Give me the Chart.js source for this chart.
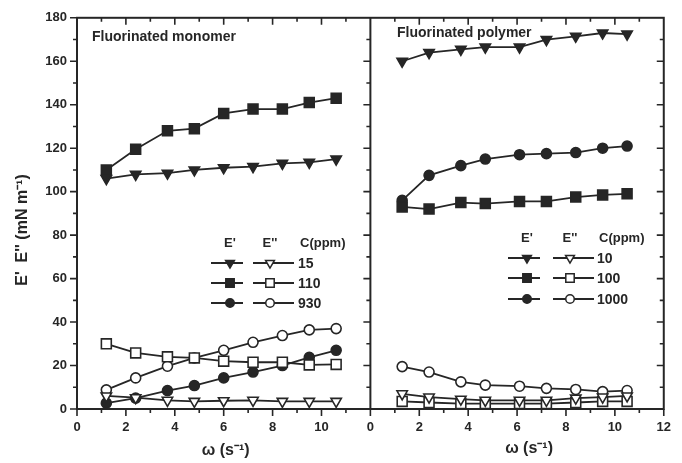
<!DOCTYPE html>
<html>
<head>
<meta charset="utf-8">
<script src="https://cdn.jsdelivr.net/npm/chart.js@4/dist/chart.umd.min.js"></script>
<style>
  body{margin:0;background:#fff;}
  #box{width:682px;height:463px;}
</style>
</head>
<body>
<div id="box"><canvas id="rheo"></canvas></div>
<script>
// frequency (s-1), one list per panel
var wMono=[1.2, 2.4, 3.7, 4.8, 6.0, 7.2, 8.4, 9.5, 10.6];
var wPoly=[1.3, 2.4, 3.7, 4.7, 6.1, 7.2, 8.4, 9.5, 10.5];
// fluorinated monomer, C = 15, 110, 930 ppm
var monoE1_15=[106, 108, 108.5, 110, 111, 111.5, 113, 113.5, 115];
var monoE1_110=[110, 119.5, 128, 129, 136, 138, 138, 141, 143];
var monoE1_930=[2.7, 5, 8.5, 10.8, 14.3, 17, 20, 23.8, 27];
var monoE2_15=[6, 5.2, 4, 3.5, 3.8, 4, 3.5, 3.5, 3.5];
var monoE2_110=[30, 25.8, 24, 23.5, 22, 21.5, 21.5, 20.3, 20.5];
var monoE2_930=[8.8, 14.3, 19.7, 23.5, 27, 30.7, 33.8, 36.4, 37];
// fluorinated polymer, C = 10, 100, 1000 ppm
var polyE1_10=[160, 164, 165.5, 166.5, 166.5, 170, 171.5, 173, 172.5];
var polyE1_100=[93, 92, 95, 94.5, 95.5, 95.5, 97.5, 98.5, 99];
var polyE1_1000=[96, 107.5, 112, 115, 117, 117.5, 118, 120, 121];
var polyE2_10=[7, 5.5, 4.5, 4, 4, 4, 5, 5.5, 6];
var polyE2_100=[3.5, 3, 2.5, 2.5, 2.5, 2.5, 3, 3.5, 3.5];
var polyE2_1000=[19.5, 17, 12.5, 11, 10.5, 9.5, 9, 8, 8.5];
var monoConc=["15", "110", "930"];
var polyConc=["10", "100", "1000"];
var panelMax=12;

var ink="#262626";
var font="'Liberation Sans', Arial, sans-serif";
var marks={tri: {style: "triangle", r: 6, rot: 180}, sq: {style: "rect", r: 7, rot: 0}, dot: {style: "circle", r: 5, rot: 0}};

function series(xs, ys, shift, mark, filled){
  return {
    data: xs.map(function(w, i){ return {x: w+shift, y: ys[i]}; }),
    borderColor: ink,
    borderWidth: 1.8,
    pointStyle: marks[mark].style,
    rotation: marks[mark].rot,
    pointRadius: marks[mark].r,
    pointBorderWidth: 1.6,
    pointBorderColor: ink,
    pointBackgroundColor: filled ? ink : "#fff",
    tension: 0
  };
}

function drawMark(ctx, mark, x, y, filled, scale){
  var m=marks[mark];
  var r=m.r*scale;
  ctx.beginPath();
  if(m.style=="triangle"){
    var rad=Math.PI;
    for(var k=0;k<3;k++){
      var px=x+Math.sin(rad)*r, py=y-Math.cos(rad)*r;
      if(k==0){ ctx.moveTo(px, py); } else { ctx.lineTo(px, py); }
      rad+=2*Math.PI/3;
    }
    ctx.closePath();
  }
  else if(m.style=="rect"){
    var s=Math.SQRT1_2*r;
    ctx.rect(x-s, y-s, 2*s, 2*s);
  }
  else{
    ctx.arc(x, y, r, 0, 2*Math.PI);
  }
  ctx.fillStyle=filled ? ink : "#fff";
  ctx.fill();
  ctx.lineWidth=1.5;
  ctx.strokeStyle=ink;
  ctx.stroke();
}

var decor={
  id: "decor",
  afterDraw: function(chart){
    var ctx=chart.ctx;
    var x=chart.scales.x, y=chart.scales.y;
    var top=y.getPixelForValue(180), bot=y.getPixelForValue(0);
    var x0=x.getPixelForValue(0), x1=x.getPixelForValue(panelMax), x2=x.getPixelForValue(2*panelMax);
    ctx.save();
    ctx.strokeStyle=ink;
    ctx.lineWidth=2;
    ctx.strokeRect(x0, top, x2-x0, bot-top);
    ctx.beginPath();
    ctx.moveTo(x1, top);
    ctx.lineTo(x1, bot);
    ctx.stroke();
    // tick marks
    ctx.lineWidth=1.6;
    ctx.beginPath();
    for(var v=0;v<=180;v+=10){
      var py=y.getPixelForValue(v);
      var len=(v%20==0) ? 7 : 4;
      ctx.moveTo(x0, py); ctx.lineTo(x0-len, py);
      if(v>0 && v<180){
        ctx.moveTo(x1, py); ctx.lineTo(x1-len, py);
        ctx.moveTo(x2, py); ctx.lineTo(x2-len, py);
      }
    }
    for(var w=0;w<=2*panelMax;w++){
      var px=x.getPixelForValue(w);
      var l=(w%2==0) ? 7 : 4;
      ctx.moveTo(px, bot); ctx.lineTo(px, bot+l);
      if(w%panelMax!=0){
        ctx.moveTo(px, top); ctx.lineTo(px, top+l);
      }
    }
    ctx.stroke();
    // texts
    ctx.fillStyle=ink;
    ctx.textBaseline="middle";
    ctx.textAlign="left";
    ctx.font="bold 14px "+font;
    ctx.fillText("Fluorinated monomer", 92, 37);
    ctx.fillText("Fluorinated polymer", 397, 33);
    ctx.textAlign="center";
    ctx.font="bold 16px "+font;
    ctx.fillText("\u03c9 (s\u207b\u00b9)", (x0+x1)/2+2, 451);
    ctx.fillText("\u03c9 (s\u207b\u00b9)", (x1+x2)/2+12, 449);
    ctx.save();
    ctx.translate(23, 230);
    ctx.rotate(-Math.PI/2);
    ctx.fillText("E'  E'' (mN m\u207b\u00b9)", 0, 0);
    ctx.restore();
    // legends
    var legends=[
      {fx: 230, ox: 270, lx: 298, hy: 243, rows: [263, 283, 303], conc: monoConc},
      {fx: 527, ox: 570, lx: 597, hy: 238, rows: [258, 278, 299], conc: polyConc}
    ];
    var kinds=["tri", "sq", "dot"];
    legends.forEach(function(g){
      ctx.font="bold 13px "+font;
      ctx.textAlign="center";
      ctx.fillText("E'", g.fx, g.hy);
      ctx.fillText("E''", g.ox, g.hy);
      ctx.textAlign="left";
      ctx.fillText("C(ppm)", g.lx+2, g.hy);
      g.rows.forEach(function(ry, k){
        ctx.lineWidth=1.8;
        ctx.strokeStyle=ink;
        ctx.beginPath();
        ctx.moveTo(g.fx-19, ry); ctx.lineTo(g.fx+13, ry);
        ctx.moveTo(g.ox-17, ry); ctx.lineTo(g.ox+24, ry);
        ctx.stroke();
        drawMark(ctx, kinds[k], g.fx, ry, true, 0.85);
        drawMark(ctx, kinds[k], g.ox, ry, false, 0.85);
        ctx.fillStyle=ink;
        ctx.font="bold 14px "+font;
        ctx.fillText(g.conc[k], g.lx, ry+1);
      });
    });
    ctx.restore();
  }
};

var datasets=[
  series(wMono, monoE2_15, 0, "tri", false),
  series(wMono, monoE2_110, 0, "sq", false),
  series(wMono, monoE2_930, 0, "dot", false),
  series(wMono, monoE1_15, 0, "tri", true),
  series(wMono, monoE1_110, 0, "sq", true),
  series(wMono, monoE1_930, 0, "dot", true),
  series(wPoly, polyE2_10, panelMax, "tri", false),
  series(wPoly, polyE2_100, panelMax, "sq", false),
  series(wPoly, polyE2_1000, panelMax, "dot", false),
  series(wPoly, polyE1_10, panelMax, "tri", true),
  series(wPoly, polyE1_100, panelMax, "sq", true),
  series(wPoly, polyE1_1000, panelMax, "dot", true)
];

new Chart(document.getElementById("rheo").getContext("2d"), {
  type: "line",
  data: {datasets: datasets},
  plugins: [decor],
  options: {
    responsive: true,
    maintainAspectRatio: false,
    animation: false,
    layout: {padding: {top: 17, right: 7, left: 0, bottom: 0}},
    plugins: {legend: {display: false}, tooltip: {enabled: false}},
    scales: {
      x: {
        type: "linear",
        min: 0,
        max: 2*panelMax,
        afterFit: function(s){ s.height=54; },
        grid: {display: false, drawTicks: false},
        border: {display: false},
        ticks: {
          stepSize: 2,
          padding: 11,
          color: ink,
          font: {family: font, size: 13, weight: "bold"},
          maxRotation: 0,
          callback: function(val){
            if(val==2*panelMax){ return String(panelMax); }
            return String(val%panelMax);
          }
        }
      },
      y: {
        min: 0,
        max: 180,
        afterFit: function(s){ s.width=77; },
        grid: {display: false, drawTicks: false},
        border: {display: false},
        ticks: {
          stepSize: 20,
          padding: 10,
          color: ink,
          font: {family: font, size: 13, weight: "bold"}
        }
      }
    }
  }
});
</script>
</body>
</html>
